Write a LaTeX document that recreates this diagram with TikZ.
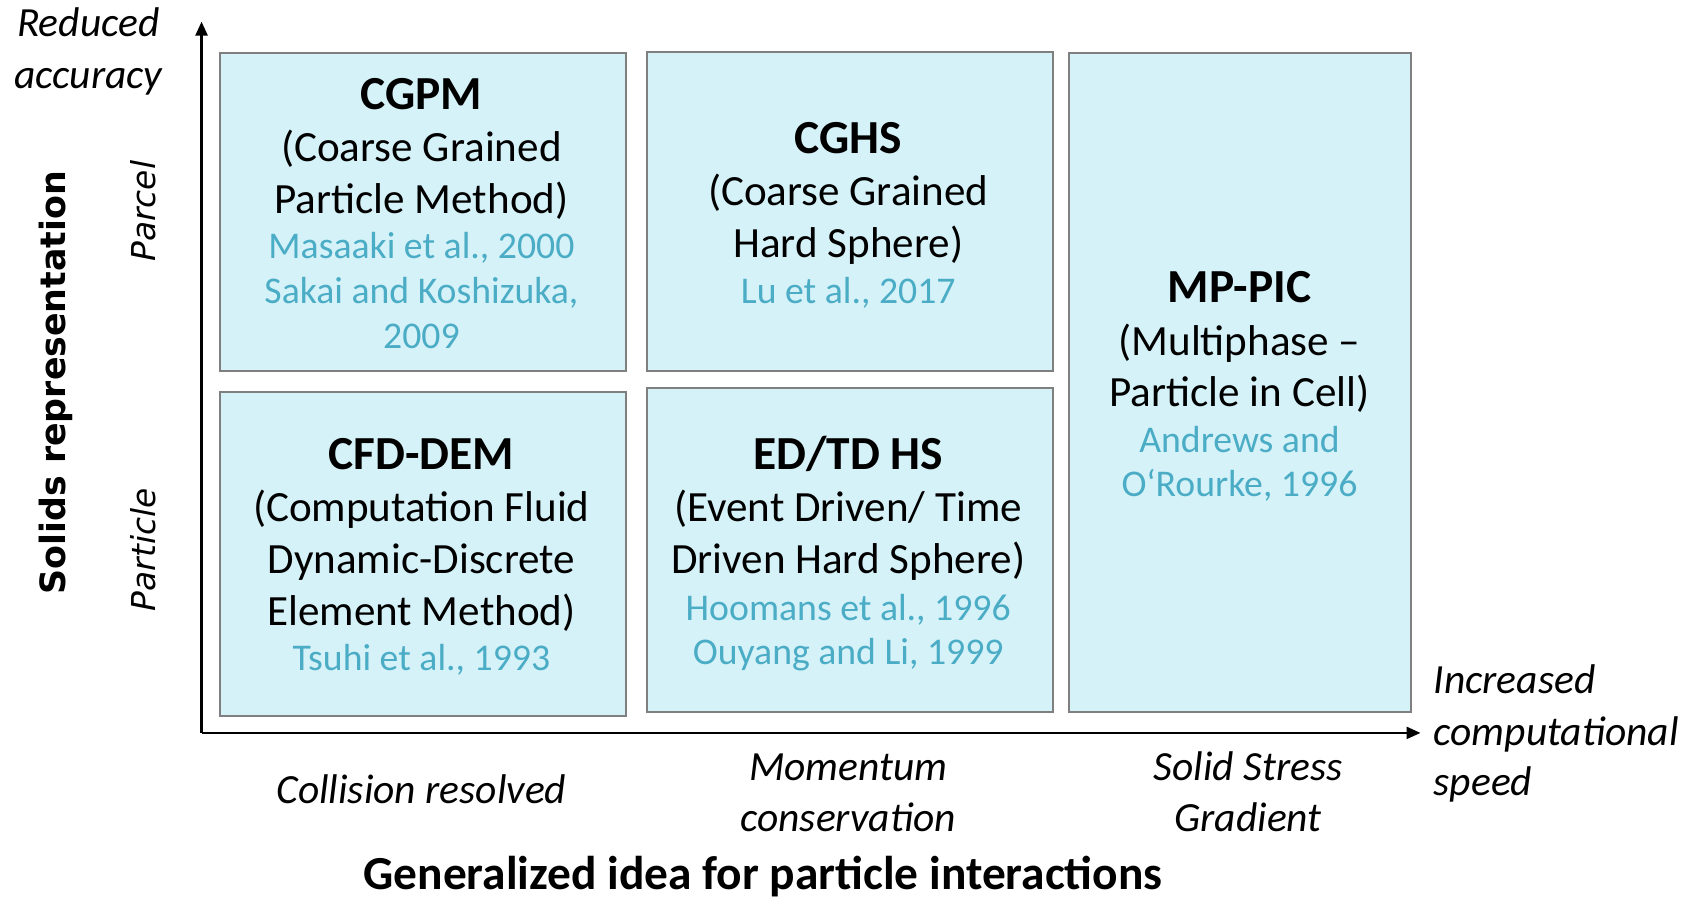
\documentclass[tikz,border=0pt]{standalone}
\usepackage{fontspec}
\setmainfont{Carlito}
\newfontfamily\dejavu{DejaVu Sans}
\usetikzlibrary{arrows.meta}
\definecolor{boxfill}{HTML}{D5F2F8}
\definecolor{boxline}{HTML}{7F7F7F}
\definecolor{refblue}{HTML}{4BACC6}
\begin{document}
\begin{tikzpicture}[x=1pt,y=-1pt,
  box/.style={draw=boxline, fill=boxfill, line width=1.8pt, inner sep=0pt, anchor=north west},
  ttl/.style={font=\fontsize{44}{52}\selectfont\bfseries, anchor=base, yshift=-14pt, inner sep=0pt},
  body/.style={font=\fontsize{40}{48}\selectfont, anchor=base, yshift=-12pt, inner sep=0pt},
  ref/.style={font=\fontsize{35}{42}\selectfont, text=refblue, anchor=base, yshift=-10.5pt, inner sep=0pt},
  axit/.style={font=\fontsize{38.5}{47}\selectfont\itshape, anchor=base, yshift=-11.5pt, inner sep=0pt},
  axbold/.style={font=\fontsize{44}{52}\selectfont\bfseries, anchor=base, yshift=-14pt, inner sep=0pt},
  vbold/.style={font=\dejavu\fontsize{32.3}{40}\selectfont\bfseries, rotate=90, inner sep=0pt},
  vit/.style={font=\dejavu\fontsize{30.5}{38}\selectfont\itshape, rotate=90, inner sep=0pt},
  axisline/.style={line width=2.5pt, -{Triangle[length=13pt,width=11pt]}}
]
\useasboundingbox (0,0) rectangle (1568,836);

% boxes
\node[box, minimum width=377pt, minimum height=295pt] (cgpm) at (203,48) {};
\node[box, minimum width=377pt, minimum height=296pt] (cghs) at (599,47) {};
\node[box, minimum width=317pt, minimum height=612pt] (mppic) at (991,48) {};
\node[box, minimum width=377pt, minimum height=300pt] (cfd) at (203,363) {};
\node[box, minimum width=377pt, minimum height=301pt] (edtd) at (599,359) {};

% axes
\coordinate (O) at (187,680);
\coordinate (ytip) at (187,20);
\coordinate (xtip) at (1318,680);
\draw[axisline] (O) -- (ytip);
\draw[axisline] (O) -- (xtip);

% CGPM
\node[ttl] (a0) at (391,88) {CGPM};
\node[body] (a1) at (391,138) {(Coarse Grained};
\node[body] (a2) at (391,186) {Particle Method)};
\node[ref] (a3) at (391,229) {Masaaki et al., 2000};
\node[ref] (a4) at (391,271) {Sakai and Koshizuka,};
\node[ref] (a5) at (391,313) {2009};

% CGHS
\node[ttl] (b0) at (787,128) {CGHS};
\node[body] (b1) at (787,179) {(Coarse Grained};
\node[body] (b2) at (787,227) {Hard Sphere)};
\node[ref] (b3) at (787,271) {Lu et al., 2017};

% MP-PIC
\node[ttl] (c0) at (1150,267) {MP-PIC};
\node[body] (c1) at (1150,318) {(Multiphase –};
\node[body] (c2) at (1150,365) {Particle in Cell)};
\node[ref] (c3) at (1150,409) {Andrews and};
\node[ref] (c4) at (1150,450) {O‘Rourke, 1996};

% CFD-DEM
\node[ttl] (d0) at (391,422) {CFD-DEM};
\node[body] (d1) at (391,472) {(Computation Fluid};
\node[body] (d2) at (391,520) {Dynamic-Discrete};
\node[body] (d3) at (391,568) {Element Method)};
\node[ref] (d4) at (391,612) {Tsuhi et al., 1993};

% ED/TD HS
\node[ttl] (e0) at (787,422) {ED/TD HS};
\node[body] (e1) at (787,472) {(Event Driven/ Time};
\node[body] (e2) at (787,520) {Driven Hard Sphere)};
\node[ref] (e3) at (787,565) {Hoomans et al., 1996};
\node[ref] (e4) at (787,606) {Ouyang and Li, 1999};

% axis labels
\node[axit] (r1) at (82,22) {Reduced};
\node[axit] (r2) at (82,71) {accuracy};
\node[axit, anchor=base west] (i1) at (1330,632) {Increased};
\node[axit, anchor=base west] (i2) at (1330,680) {computational};
\node[axit, anchor=base west] (i3) at (1330,727) {speed};
\node[axit] (x1) at (391,734) {Collision resolved};
\node[axit] (x2) at (787,713) {Momentum};
\node[axit] (x3) at (787,760) {conservation};
\node[axit] (x4) at (1158,713) {Solid Stress};
\node[axit] (x5) at (1158,760) {Gradient};
\node[axbold] (xt) at (708,811) {Generalized idea for particle interactions};
\node[vbold] (yt) at (52,355) {Solids representation};
\node[vit] (y1) at (133,196) {Parcel};
\node[vit] (y2) at (133,510) {Particle};
\end{tikzpicture}
\end{document}
